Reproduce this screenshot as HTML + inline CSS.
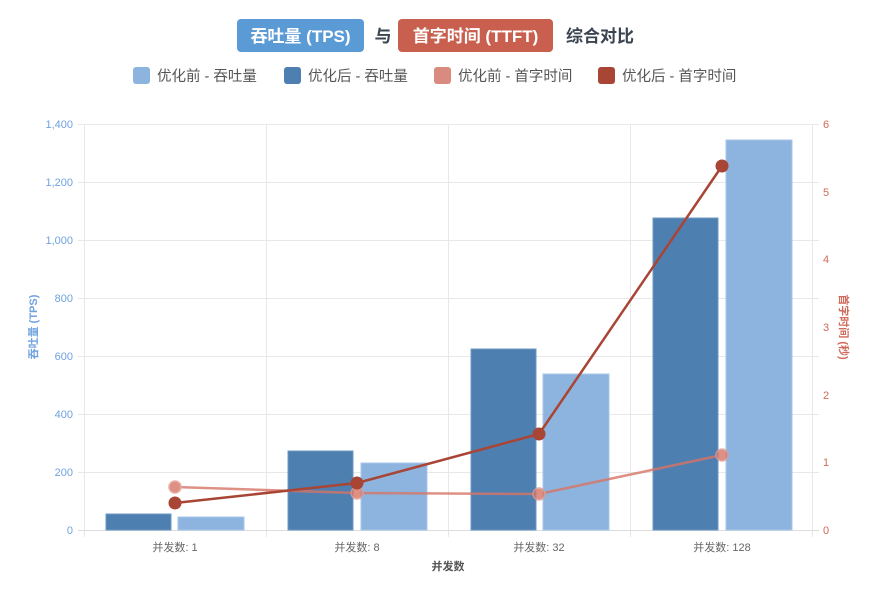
<!DOCTYPE html>
<html><head><meta charset="utf-8"><style>
body{margin:0;background:#fff;width:890px;height:587px;overflow:hidden;font-family:"Liberation Sans","Noto Sans CJK SC",sans-serif;}
</style></head><body>
<svg width="890" height="587" xmlns="http://www.w3.org/2000/svg" font-family="Liberation Sans, Noto Sans CJK SC, sans-serif">
<!-- title -->
<rect x="237" y="19" width="127" height="33" rx="4" fill="#5b9bd5"/>
<text x="300.5" y="42" text-anchor="middle" font-size="17" font-weight="bold" fill="#fff">吞吐量 (TPS)</text>
<text x="383" y="42" text-anchor="middle" font-size="17" font-weight="bold" fill="#3a4450">与</text>
<rect x="398" y="19" width="155" height="33" rx="4" fill="#c9604f"/>
<text x="475.5" y="42" text-anchor="middle" font-size="17" font-weight="bold" fill="#fff">首字时间 (TTFT)</text>
<text x="600" y="42" text-anchor="middle" font-size="17" font-weight="bold" fill="#3a4450">综合对比</text>
<!-- legend -->
<g font-size="14.5" fill="#555">
<rect x="133" y="67" width="17" height="17" rx="3" fill="#8db4de"/><text x="157" y="81">优化前 - 吞吐量</text>
<rect x="284" y="67" width="17" height="17" rx="3" fill="#4e7fb1"/><text x="308" y="81">优化后 - 吞吐量</text>
<rect x="434" y="67" width="17" height="17" rx="3" fill="#d98b80"/><text x="458" y="81">优化前 - 首字时间</text>
<rect x="598" y="67" width="17" height="17" rx="3" fill="#a84535"/><text x="622" y="81">优化后 - 首字时间</text>
</g>
<!-- grid -->
<g stroke="#e8e8e8" stroke-width="1">
<line x1="78" y1="124.5" x2="819" y2="124.5"/>
<line x1="78" y1="182.5" x2="819" y2="182.5"/>
<line x1="78" y1="240.5" x2="819" y2="240.5"/>
<line x1="78" y1="298.5" x2="819" y2="298.5"/>
<line x1="78" y1="356.5" x2="819" y2="356.5"/>
<line x1="78" y1="414.5" x2="819" y2="414.5"/>
<line x1="78" y1="472.5" x2="819" y2="472.5"/>
<line x1="84.5" y1="124" x2="84.5" y2="537"/>
<line x1="266.5" y1="124" x2="266.5" y2="537"/>
<line x1="448.5" y1="124" x2="448.5" y2="537"/>
<line x1="630.5" y1="124" x2="630.5" y2="537"/>
<line x1="812.5" y1="124" x2="812.5" y2="537"/>
</g>
<line x1="78" y1="530.5" x2="819" y2="530.5" stroke="#ddd"/>
<!-- left ticks -->
<g font-size="11" fill="#6fa2de" text-anchor="end">
<text x="73" y="128">1,400</text><text x="73" y="186">1,200</text><text x="73" y="244">1,000</text>
<text x="73" y="302">800</text><text x="73" y="360">600</text><text x="73" y="418">400</text>
<text x="73" y="476">200</text><text x="73" y="534">0</text>
</g>
<text transform="translate(37,327) rotate(-90)" text-anchor="middle" font-size="11" font-weight="bold" fill="#6fa2de">吞吐量 (TPS)</text>
<!-- right ticks -->
<g font-size="11" fill="#d06a5a">
<text x="823" y="128">6</text><text x="823" y="196">5</text><text x="823" y="263">4</text>
<text x="823" y="331">3</text><text x="823" y="399">2</text><text x="823" y="466">1</text><text x="823" y="534">0</text>
</g>
<text transform="translate(840,327) rotate(90)" text-anchor="middle" font-size="11" font-weight="bold" fill="#d06a5a">首字时间 (秒)</text>
<!-- x labels -->
<g font-size="11" fill="#666" text-anchor="middle">
<text x="175" y="551">并发数: 1</text><text x="357" y="551">并发数: 8</text>
<text x="539" y="551">并发数: 32</text><text x="722" y="551">并发数: 128</text>
</g>
<text x="448" y="570" text-anchor="middle" font-size="11" font-weight="bold" fill="#555">并发数</text>
<!-- bars -->
<g stroke-width="1">
<rect x="106" y="514" width="65" height="16" fill="#4e7fb1" stroke="#6d98c4"/>
<rect x="178" y="517" width="66" height="13" fill="#8db4de" stroke="#a8c6e8"/>
<rect x="288" y="451" width="65" height="79" fill="#4e7fb1" stroke="#6d98c4"/>
<rect x="361" y="463" width="66" height="67" fill="#8db4de" stroke="#a8c6e8"/>
<rect x="471" y="349" width="65" height="181" fill="#4e7fb1" stroke="#6d98c4"/>
<rect x="543" y="374" width="66" height="156" fill="#8db4de" stroke="#a8c6e8"/>
<rect x="653" y="218" width="65" height="312" fill="#4e7fb1" stroke="#6d98c4"/>
<rect x="726" y="140" width="66" height="390" fill="#8db4de" stroke="#a8c6e8"/>
</g>
<!-- lines -->
<g opacity="0.8">
<polyline points="175,487 357,493 539,494 722,455" fill="none" stroke="#d77566" stroke-width="2.5"/>
<g fill="#d77566" stroke="#e09a8f" stroke-width="1.5">
<circle cx="175" cy="487" r="6"/><circle cx="357" cy="493" r="6"/><circle cx="539" cy="494" r="6"/><circle cx="722" cy="455" r="6"/>
</g>
</g>
<polyline points="175,503 357,483 539,434 722,166" fill="none" stroke="#a84535" stroke-width="2.5"/>
<g fill="#a84535">
<circle cx="175" cy="503" r="6.5"/><circle cx="357" cy="483" r="6.5"/><circle cx="539" cy="434" r="6.5"/><circle cx="722" cy="166" r="6.5"/>
</g>
</svg>
</body></html>
